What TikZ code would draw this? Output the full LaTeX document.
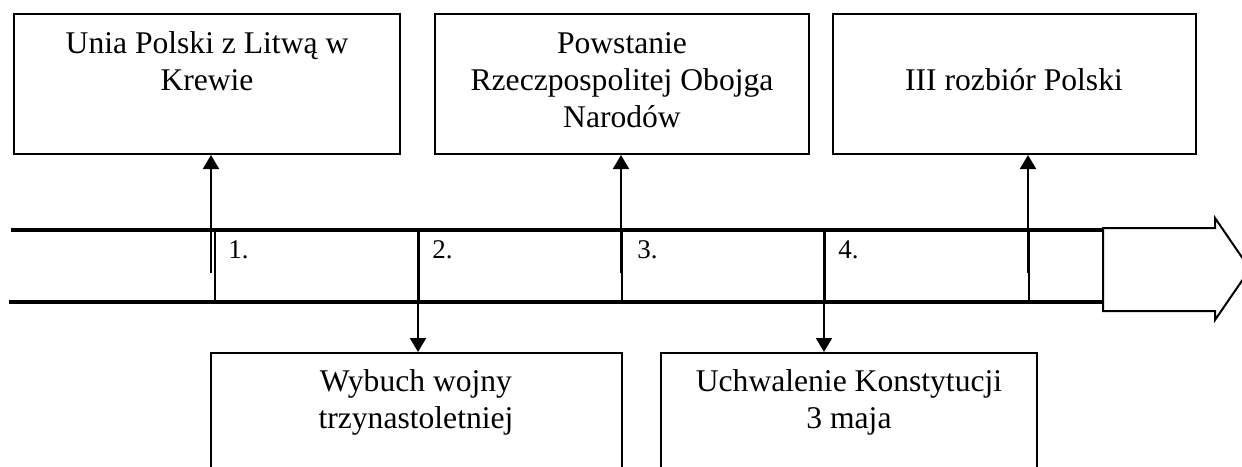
\documentclass[tikz,border=0pt]{standalone}
\usepackage{fontspec}
\setmainfont{Liberation Serif}
\usetikzlibrary{arrows.meta, positioning}

\begin{document}
\begin{tikzpicture}[
    x=0.5pt, y=-0.5pt,
    event/.style={draw, line width=1pt, inner sep=0pt, minimum height=70pt},
    caption/.style={font=\fontsize{15.8}{18.5}\selectfont, align=center, anchor=base, inner sep=0pt},
    num/.style={font=\fontsize{13.5}{16}\selectfont, anchor=base west, inner sep=0pt},
    rail/.style={line width=2.2pt},
    thintick/.style={line width=0.7pt},
    thicktick/.style={line width=1.5pt},
    link/.style={line width=1pt, -{Triangle[width=8pt, length=7pt]}},
]
    \clip (0,0) rectangle (1242,466);

    % events above the time line (captions placed by their last baseline)
    \node[event, minimum width=193pt] (krewo) at (207,84) {};
    \node[event, minimum width=187pt] (rzecz) at (622,84) {};
    \node[event, minimum width=181.5pt] (rozbior) at (1014.5,84) {};
    \node[caption] (krewo text) at (207,90) {Unia Polski z Litwą w\\Krewie};
    \node[caption] (rzecz text) at (622,127) {Powstanie\\Rzeczpospolitej Obojga\\Narodów};
    \node[caption] (rozbior text) at (1014,90) {III rozbiór Polski};

    % events below the time line
    \node[event, anchor=north, minimum width=205.5pt, minimum height=80pt] (wojna) at (416.5,352) {};
    \node[event, anchor=north, minimum width=188pt, minimum height=80pt] (konst) at (849,352) {};
    \node[caption] (wojna text) at (416,428) {Wybuch wojny\\trzynastoletniej};
    \node[caption] (konst text) at (849,428) {Uchwalenie Konstytucji\\3 maja};

    % time line
    \draw[rail] (11,230) -- (1103,230);
    \draw[rail] (9,302) -- (1103,302);
    \draw[line width=1pt, fill=white] (1103,228) -- (1215,228) -- (1215,218) -- (1250,269)
        -- (1215,320) -- (1215,311) -- (1103,311) -- cycle;
    \foreach \x in {215,622,1029}
        \draw[thintick] (\x,230) -- (\x,302);
    \foreach \x in {418,824}
        \draw[thicktick] (\x,230) -- (\x,302);
    \foreach \x [count=\i] in {228,432,637,838}
        \node[num] (n\i) at (\x,258) {\i.};

    % connectors
    \coordinate (s1) at (211,273);
    \coordinate (s2) at (418,230);
    \coordinate (s3) at (621,273);
    \coordinate (s4) at (824,230);
    \coordinate (s5) at (1028,273);
    \draw[link] (s1) -- (s1 |- krewo.south);
    \draw[link] (s2) -- (s2 |- wojna.north);
    \draw[link] (s3) -- (s3 |- rzecz.south);
    \draw[link] (s4) -- (s4 |- konst.north);
    \draw[link] (s5) -- (s5 |- rozbior.south);
\end{tikzpicture}
\end{document}
